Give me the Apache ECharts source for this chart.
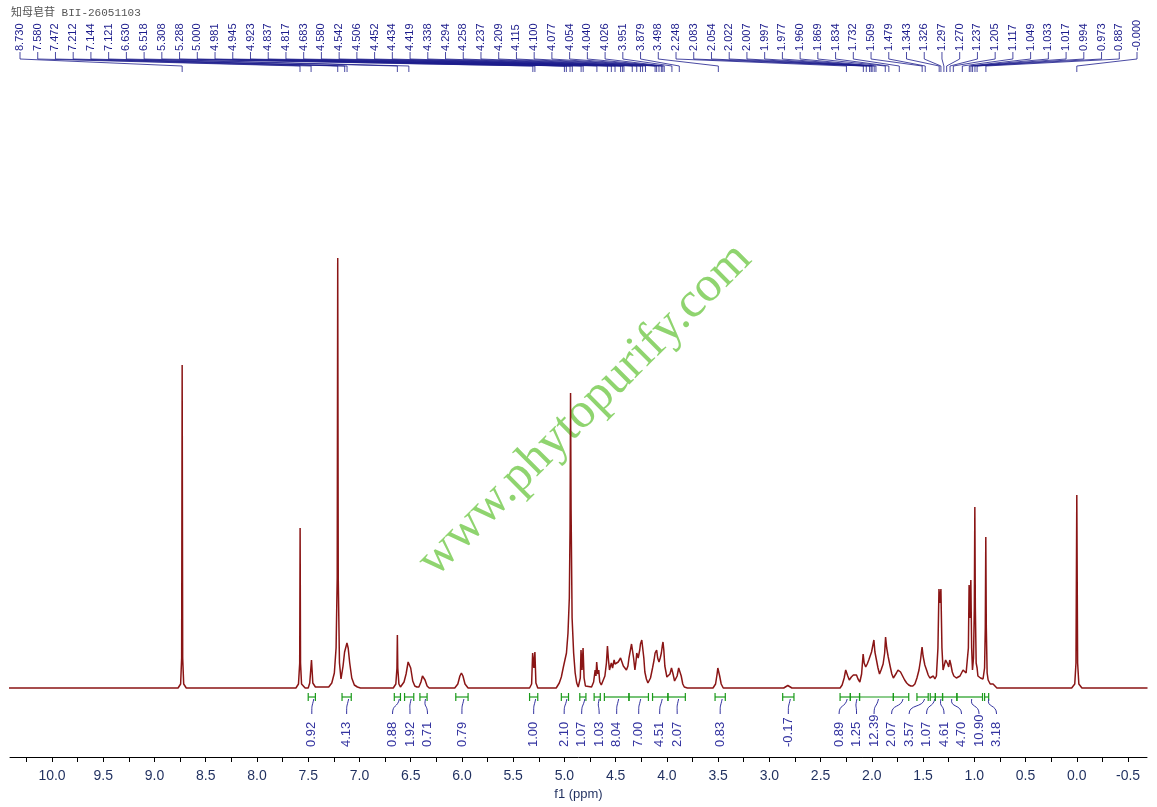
<!DOCTYPE html>
<html>
<head>
<meta charset="utf-8">
<script src="https://cdn.jsdelivr.net/npm/echarts@6/dist/echarts.min.js"></script>
<style>
  html, body { margin: 0; padding: 0; background: #fff; }
  #chart { width: 1157px; height: 807px; }
</style>
</head>
<body>
<div id="chart"></div>
<script>
// 1H NMR trace: [ppm, intensity (arbitrary units)].
const traceAromatic = [
  [10.42, 0], [8.96, 0], [8.95, 1.5], [8.94, 0],
  [8.77, 0], [8.745, 4], [8.735, 30], [8.73, 323], [8.725, 30], [8.715, 4], [8.69, 0],
  [8.51, 0], [8.50, 1.5], [8.49, 0],
  [7.62, 0], [7.595, 4], [7.583, 25], [7.579, 160], [7.575, 25], [7.565, 4], [7.53, 0],
  [7.50, 0], [7.485, 5], [7.468, 28], [7.455, 5], [7.43, 1],
  [7.30, 1], [7.27, 5], [7.245, 15], [7.228, 40], [7.217, 110], [7.212, 430], [7.207, 110],
  [7.195, 25], [7.18, 9], [7.16, 22], [7.145, 36], [7.135, 34], [7.122, 45], [7.11, 40],
  [7.095, 25], [7.075, 10], [7.05, 3], [7.02, 1], [7.005, 3], [6.99, 0],
  [6.67, 0], [6.645, 4], [6.634, 20], [6.63, 53], [6.626, 20], [6.615, 4], [6.60, 1],
  [6.59, 1], [6.565, 6], [6.545, 14], [6.525, 26], [6.515, 28], [6.50, 20], [6.48, 7], [6.46, 2], [6.44, 1],
  [6.42, 1], [6.40, 6], [6.385, 12], [6.375, 13], [6.36, 8], [6.34, 2], [6.32, 0],
  [6.07, 0], [6.04, 4], [6.02, 12], [6.005, 15], [5.99, 12], [5.97, 4], [5.94, 0],
];
const traceSugar = [
  [5.34, 0], [5.32, 4], [5.31, 35], [5.298, 20], [5.288, 36], [5.278, 5], [5.26, 0],
  [5.08, 0], [5.05, 5], [5.03, 11], [5.01, 21], [4.995, 28], [4.98, 35], [4.965, 55], [4.952, 90],
  [4.945, 160], [4.94, 295], [4.935, 180], [4.925, 70], [4.91, 35], [4.895, 15], [4.88, 5], [4.865, 1],
  [4.855, 2], [4.845, 10], [4.838, 38], [4.828, 18], [4.818, 40], [4.808, 10], [4.795, 2], [4.78, 1],
  [4.735, 1], [4.715, 6], [4.70, 18], [4.692, 12], [4.685, 26], [4.675, 14], [4.665, 18], [4.655, 6], [4.64, 3],
  [4.625, 5], [4.605, 12], [4.59, 25], [4.58, 42], [4.57, 28], [4.56, 18], [4.55, 22], [4.542, 25],
  [4.53, 20], [4.515, 28], [4.506, 24], [4.49, 23], [4.475, 26], [4.46, 24], [4.452, 30], [4.436, 32],
  [4.425, 22], [4.41, 20], [4.395, 18], [4.38, 22], [4.37, 30], [4.345, 44], [4.338, 46], [4.325, 30],
  [4.312, 18], [4.30, 28], [4.294, 35], [4.28, 30], [4.265, 38], [4.258, 44], [4.245, 48], [4.237, 46],
  [4.225, 30], [4.215, 16], [4.20, 9], [4.185, 5], [4.175, 5], [4.16, 10], [4.14, 20], [4.125, 28],
  [4.115, 35], [4.10, 38], [4.09, 30], [4.077, 26], [4.065, 30], [4.054, 35], [4.045, 42], [4.038, 46],
  [4.03, 38], [4.02, 22], [4.00, 11], [3.985, 10], [3.97, 14], [3.955, 20], [3.94, 14], [3.925, 7],
  [3.915, 5], [3.90, 12], [3.885, 20], [3.875, 21], [3.86, 12], [3.845, 4], [3.83, 1], [3.80, 0],
  [3.55, 0], [3.525, 4], [3.51, 14], [3.503, 20], [3.495, 18], [3.485, 12], [3.47, 4], [3.45, 0],
  [2.86, 0], [2.82, 2.5], [2.78, 0],
];
const traceAliphatic = [
  [2.31, 0], [2.29, 3], [2.27, 10], [2.255, 18], [2.245, 15], [2.235, 12], [2.22, 8], [2.20, 11],
  [2.18, 13], [2.165, 12], [2.15, 13], [2.135, 9], [2.117, 6], [2.10, 14], [2.085, 34], [2.075, 25],
  [2.06, 21], [2.045, 24], [2.03, 28], [2.015, 30], [2.003, 36], [1.99, 38], [1.98, 48], [1.97, 36],
  [1.955, 28], [1.94, 20], [1.925, 14], [1.91, 18], [1.89, 24], [1.875, 35], [1.866, 51], [1.855, 40],
  [1.84, 31], [1.83, 26], [1.82, 21], [1.805, 14], [1.79, 10], [1.775, 12], [1.76, 15], [1.745, 18],
  [1.734, 20], [1.72, 16], [1.70, 12], [1.68, 8], [1.66, 5], [1.64, 3], [1.62, 2], [1.60, 2],
  [1.58, 4], [1.56, 10], [1.54, 18], [1.525, 28], [1.51, 41], [1.50, 32], [1.483, 23], [1.466, 18],
  [1.45, 13], [1.434, 10], [1.42, 12], [1.40, 12], [1.385, 9], [1.37, 12], [1.355, 40], [1.345, 99],
  [1.335, 85], [1.326, 99], [1.316, 40], [1.305, 18], [1.29, 24], [1.28, 28], [1.27, 30], [1.26, 24],
  [1.25, 21], [1.24, 28], [1.23, 24], [1.215, 16], [1.20, 12], [1.19, 11], [1.175, 10], [1.158, 10],
  [1.14, 12], [1.125, 15], [1.11, 18], [1.095, 16], [1.08, 15], [1.07, 16], [1.058, 40], [1.051, 103],
  [1.043, 70], [1.034, 108], [1.026, 40], [1.018, 18], [1.008, 30], [1.00, 80], [0.995, 181],
  [0.99, 80], [0.982, 25], [0.973, 20], [0.965, 12], [0.955, 10], [0.94, 10], [0.93, 10], [0.915, 9],
  [0.90, 20], [0.893, 60], [0.888, 151], [0.883, 60], [0.875, 15], [0.865, 8], [0.845, 4], [0.83, 3],
  [0.817, 4], [0.80, 2], [0.78, 0],
  [0.05, 0], [0.02, 4], [0.008, 25], [0.0, 193], [-0.008, 25], [-0.02, 4], [-0.05, 0], [-0.69, 0],
];

// Peak picks printed along the top.
const peakShifts = [
  '8.730', '7.580', '7.472', '7.212', '7.144', '7.121', '6.630', '6.518', '5.308', '5.288',
  '5.000', '4.981', '4.945', '4.923', '4.837', '4.817', '4.683', '4.580', '4.542', '4.506',
  '4.452', '4.434', '4.419', '4.338', '4.294', '4.258', '4.237', '4.209', '4.115', '4.100',
  '4.077', '4.054', '4.040', '4.026', '3.951', '3.879', '3.498', '2.248', '2.083', '2.054',
  '2.022', '2.007', '1.997', '1.977', '1.960', '1.869', '1.834', '1.732', '1.509', '1.479',
  '1.343', '1.326', '1.297', '1.270', '1.237', '1.205', '1.117', '1.049', '1.033', '1.017',
  '0.994', '0.973', '0.887', '-0.000',
];

// Integral regions (ppm from → to) and their values.
const intFrom = [7.50, 7.17, 6.66, 6.56, 6.41, 6.06, 5.34, 5.03, 4.85, 4.71, 4.61, 4.37, 4.14, 3.99, 3.53,
  2.87, 2.31, 2.21, 2.12, 1.79, 1.56, 1.43, 1.38, 1.31, 1.17, 0.90];
const intTo = [7.43, 7.08, 6.60, 6.47, 6.34, 5.94, 5.26, 4.96, 4.79, 4.65, 4.37, 4.18, 3.99, 3.82, 3.43,
  2.76, 2.21, 2.12, 1.79, 1.64, 1.45, 1.38, 1.31, 1.17, 0.92, 0.86];
const intValues = ['0.92', '4.13', '0.88', '1.92', '0.71', '0.79', '1.00', '2.10', '1.07', '1.03', '8.04',
  '7.00', '4.51', '2.07', '0.83', '-0.17', '0.89', '1.25', '12.39', '2.07', '3.57', '1.07', '4.61',
  '4.70', '10.90', '3.18'];

// Axis ticks every 0.25 ppm, labels every 0.5 ppm.
const tickValues = [10.25, 10.0, 9.75, 9.5, 9.25, 9.0, 8.75, 8.5, 8.25, 8.0, 7.75, 7.5, 7.25, 7.0,
  6.75, 6.5, 6.25, 6.0, 5.75, 5.5, 5.25, 5.0, 4.75, 4.5, 4.25, 4.0, 3.75, 3.5, 3.25, 3.0, 2.75, 2.5,
  2.25, 2.0, 1.75, 1.5, 1.25, 1.0, 0.75, 0.5, 0.25, 0.0, -0.25, -0.5];
const labelValues = [10.0, 9.5, 9.0, 8.5, 8.0, 7.5, 7.0, 6.5, 6.0, 5.5, 5.0, 4.5, 4.0, 3.5, 3.0, 2.5,
  2.0, 1.5, 1.0, 0.5, 0.0, -0.5];

const NAVY = '#1c1c8c';
const TRACE = '#8a1515';

// Push overlapping label positions apart, keeping each cluster centred.
function spread(centers, gap) {
  const blocks = [];
  centers.forEach((c) => {
    let b = { sum: c, n: 1, start: c };
    while (blocks.length) {
      const p = blocks[blocks.length - 1];
      if (p.start + p.n * gap <= b.start) break;
      const n = p.n + b.n, sum = p.sum + b.sum;
      b = { sum, n, start: sum / n - (n - 1) * gap / 2 };
      blocks.pop();
    }
    blocks.push(b);
  });
  const out = [];
  blocks.forEach((b) => { for (let k = 0; k < b.n; k++) out.push(b.start + k * gap); });
  return out;
}

let intLabelX = [];

function renderPeakLabel(params, api) {
  const i = params.dataIndex;
  const step = (1137 - 20) / (peakShifts.length - 1);
  const lx = 20 + i * step;
  const px = api.coord([api.value(0), 0])[0];
  return {
    type: 'group',
    children: [
      { type: 'text', x: lx, y: 51, rotation: Math.PI / 2,
        style: { text: peakShifts[i], align: 'left', verticalAlign: 'middle', fill: NAVY,
          font: '11px "Liberation Sans", Arial, sans-serif' } },
      { type: 'polyline', shape: { points: [[lx, 52], [lx, 59], [px, 66], [px, 72]] },
        style: { stroke: NAVY, lineWidth: 0.8, fill: null } },
    ],
  };
}

function renderIntegral(params, api) {
  const i = params.dataIndex;
  if (i === 0) {
    const centers = intFrom.map((f, k) => (api.coord([f, 0])[0] + api.coord([intTo[k], 0])[0]) / 2);
    intLabelX = spread(centers, 17.5);
  }
  const x1 = api.coord([api.value(0), 0])[0];
  const x2 = api.coord([api.value(1), 0])[0];
  const cx = (x1 + x2) / 2, lx = intLabelX[i];
  const green = { stroke: '#1a9a1a', lineWidth: 1.2, fill: null };
  return {
    type: 'group',
    children: [
      { type: 'line', shape: { x1, y1: 697, x2, y2: 697 }, style: green },
      { type: 'line', shape: { x1, y1: 693, x2: x1, y2: 701 }, style: green },
      { type: 'line', shape: { x1: x2, y1: 693, x2, y2: 701 }, style: green },
      { type: 'bezierCurve', shape: { x1: cx + 2, y1: 699, cpx1: cx, cpy1: 708, cpx2: lx, cpy2: 704, x2: lx, y2: 714 },
        style: { stroke: '#3333a0', lineWidth: 1, fill: null } },
      { type: 'text', x: lx, y: 747, rotation: Math.PI / 2,
        style: { text: intValues[i], align: 'left', verticalAlign: 'middle', fill: '#3333a0',
          font: '13px "Liberation Sans", Arial, sans-serif' } },
    ],
  };
}

const chart = echarts.init(document.getElementById('chart'));
chart.setOption({
  animation: false,
  backgroundColor: '#fff',
  grid: { left: 10, right: 10, top: 80, bottom: 50 },
  xAxis: {
    type: 'value', inverse: true, min: -0.685, max: 10.41,
    name: 'f1 (ppm)', nameLocation: 'middle', nameGap: 26,
    nameTextStyle: { color: '#1f2f5f', fontSize: 13, fontFamily: 'Liberation Sans' },
    axisLine: { onZero: false, lineStyle: { color: '#000', width: 1 } },
    axisTick: { customValues: tickValues, length: 5, lineStyle: { color: '#000' } },
    axisLabel: { customValues: labelValues, margin: 12, color: '#1f2f5f', fontSize: 14,
      fontFamily: 'Liberation Sans', formatter: (v) => v.toFixed(1) },
    splitLine: { show: false },
  },
  yAxis: { type: 'value', min: -69, max: 608, show: false },
  graphic: [
    { type: 'text', left: 11, top: 8,
      style: { text: '知母皂苷 BII-26051103', fill: '#555', font: '11px "Liberation Mono", "Noto Sans CJK SC", monospace' } },
    { type: 'text', x: 585, y: 410, rotation: Math.PI / 4, z: -1,
      style: { text: 'www.phytopurify.com', fill: '#8fd46f', align: 'center', verticalAlign: 'middle',
        font: '50px "Liberation Serif", "DejaVu Serif", serif' } },
  ],
  series: [
    {
      type: 'line', silent: true, showSymbol: false, z: 3,
      data: [...traceAromatic, ...traceSugar, ...traceAliphatic],
      lineStyle: { color: TRACE, width: 1.5 },
    },
    {
      type: 'custom', silent: true, clip: false,
      data: peakShifts.map((s) => [parseFloat(s), 0]),
      encode: { x: 0, y: 1 },
      renderItem: renderPeakLabel,
    },
    {
      type: 'custom', silent: true, clip: false,
      data: intFrom.map((f, k) => [f, intTo[k], 0]),
      encode: { x: [0, 1], y: 2 },
      renderItem: renderIntegral,
    },
  ],
});
</script>
</body>
</html>
